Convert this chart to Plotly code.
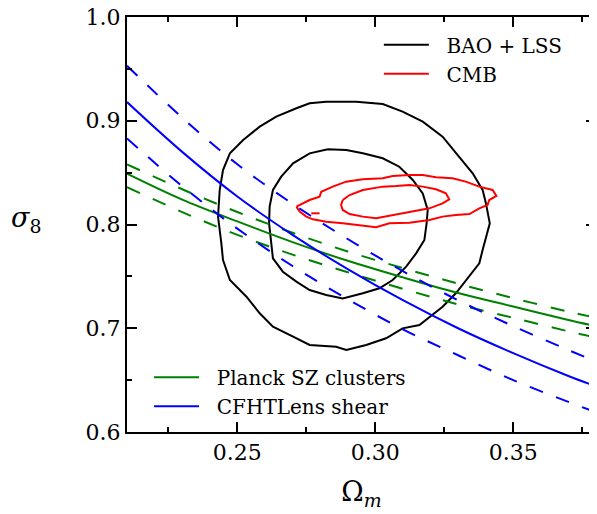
import plotly.graph_objects as go

# ---------------- data ----------------
line_x = [0.21, 0.23, 0.25, 0.27, 0.29, 0.31, 0.33, 0.35, 0.37, 0.38]

sz_mid = [0.849, 0.824, 0.803, 0.783, 0.765, 0.749, 0.734, 0.721, 0.708, 0.702]
sz_hi = [0.858, 0.834, 0.812, 0.792, 0.774, 0.758, 0.743, 0.729, 0.716, 0.710]
sz_lo = [0.836, 0.812, 0.790, 0.771, 0.754, 0.738, 0.723, 0.710, 0.697, 0.691]

shear_mid = [0.918, 0.870, 0.827, 0.790, 0.757, 0.727, 0.700, 0.676, 0.654, 0.644]
shear_hi = [0.953, 0.903, 0.858, 0.820, 0.786, 0.755, 0.727, 0.702, 0.679, 0.668]
shear_lo = [0.883, 0.837, 0.796, 0.760, 0.728, 0.699, 0.674, 0.650, 0.629, 0.619]

bao_outer_x = [0.2822, 0.2931, 0.3027, 0.3099, 0.3172, 0.3244, 0.3298, 0.3353, 0.3389, 0.3401,
               0.3415, 0.3401, 0.3389, 0.3377, 0.3340, 0.3292, 0.3244, 0.3196, 0.3160, 0.3099,
               0.3039, 0.2967, 0.2895, 0.2858, 0.2762, 0.2702, 0.2629, 0.2581, 0.2533, 0.2473,
               0.2448, 0.2442, 0.2436, 0.2430, 0.2436, 0.2448, 0.2473, 0.2521, 0.2581, 0.2641,
               0.2714, 0.2762, 0.2822]
bao_outer_y = [0.9184, 0.9184, 0.9161, 0.9088, 0.8991, 0.8847, 0.8670, 0.8493, 0.8333, 0.8204,
               0.8011, 0.7883, 0.7754, 0.7626, 0.7497, 0.7337, 0.7208, 0.7112, 0.7031, 0.6999,
               0.6903, 0.6839, 0.6790, 0.6822, 0.6839, 0.6919, 0.7015, 0.7144, 0.7304, 0.7465,
               0.7658, 0.7818, 0.7947, 0.8076, 0.8332, 0.8525, 0.8686, 0.8815, 0.8943, 0.9039,
               0.9120, 0.9168, 0.9184]

bao_inner_x = [0.2828, 0.2895, 0.2955, 0.3027, 0.3087, 0.3136, 0.3172, 0.3190, 0.3186, 0.3178,
               0.3148, 0.3112, 0.3063, 0.3015, 0.2955, 0.2882, 0.2822, 0.2762, 0.2714, 0.2665,
               0.2629, 0.2623, 0.2615, 0.2617, 0.2629, 0.2659, 0.2702, 0.2762, 0.2828]
bao_inner_y = [0.8725, 0.8718, 0.8686, 0.8638, 0.8557, 0.8429, 0.8300, 0.8140, 0.8011, 0.7851,
               0.7722, 0.7594, 0.7465, 0.7385, 0.7337, 0.7288, 0.7321, 0.7368, 0.7449, 0.7545,
               0.7674, 0.7818, 0.8011, 0.8172, 0.8333, 0.8461, 0.8590, 0.8686, 0.8725]

cmb_outer_x = [0.2714, 0.2762, 0.2798, 0.2804, 0.2846, 0.2894, 0.2955, 0.3027, 0.3063, 0.3124,
               0.3172, 0.3220, 0.3280, 0.3328, 0.3377, 0.3425, 0.3439, 0.3413, 0.3407, 0.3377,
               0.3341, 0.3292, 0.3244, 0.3196, 0.3124, 0.3051, 0.3003, 0.2943, 0.2882, 0.2822,
               0.2774, 0.2750, 0.2726, 0.2714]
cmb_outer_y = [0.8172, 0.8236, 0.8268, 0.8316, 0.8365, 0.8413, 0.8435, 0.8445, 0.8467, 0.8477,
               0.8477, 0.8455, 0.8445, 0.8413, 0.8365, 0.8333, 0.8275, 0.8236, 0.8188, 0.8156,
               0.8101, 0.8092, 0.8076, 0.8043, 0.8018, 0.8011, 0.7973, 0.7995, 0.8011, 0.8027,
               0.8050, 0.8076, 0.8124, 0.8172]

cmb_island_x = [0.2768, 0.2798]
cmb_island_y = [0.8108, 0.8108]

cmb_inner_x = [0.2882, 0.2907, 0.2955, 0.3027, 0.3075, 0.3124, 0.3172, 0.3220, 0.3256, 0.3268,
               0.3244, 0.3196, 0.3148, 0.3099, 0.3039, 0.3003, 0.2955, 0.2907, 0.2882, 0.2876,
               0.2882]
cmb_inner_y = [0.8236, 0.8284, 0.8333, 0.8365, 0.8371, 0.8381, 0.8365, 0.8339, 0.8301, 0.8243,
               0.8204, 0.8156, 0.8133, 0.8108, 0.8082, 0.8060, 0.8076, 0.8101, 0.8140, 0.8188,
               0.8236]

x_ticks = [0.25, 0.30, 0.35]
x_tick_labels = ["0.25", "0.30", "0.35"]
y_ticks = [0.6, 0.7, 0.8, 0.9, 1.0]
y_tick_labels = ["0.6", "0.7", "0.8", "0.9", "1.0"]

# ---------------- figure ----------------
FONT = "DejaVu Serif"
GREEN = "#008000"
BLUE = "#0000ff"
RED = "#ff0000"
LW = 2
DASH = "14px,14px"
PAD = "\u00a0\u00a0"  # gap between legend line and label

fig = go.Figure()

# contours
fig.add_trace(go.Scatter(x=bao_outer_x, y=bao_outer_y, mode="lines", name=PAD + "BAO + LSS",
                         line=dict(color="black", width=LW), legend="legend", legendrank=1))
fig.add_trace(go.Scatter(x=bao_inner_x, y=bao_inner_y, mode="lines", showlegend=False,
                         line=dict(color="black", width=LW)))
fig.add_trace(go.Scatter(x=cmb_outer_x, y=cmb_outer_y, mode="lines", name=PAD + "CMB",
                         line=dict(color=RED, width=LW), legend="legend", legendrank=2))
fig.add_trace(go.Scatter(x=cmb_inner_x, y=cmb_inner_y, mode="lines", showlegend=False,
                         line=dict(color=RED, width=LW)))
fig.add_trace(go.Scatter(x=cmb_island_x, y=cmb_island_y, mode="lines", showlegend=False,
                         line=dict(color=RED, width=LW)))

# Planck SZ
fig.add_trace(go.Scatter(x=line_x, y=sz_mid, mode="lines", name=PAD + "Planck SZ clusters",
                         line=dict(color=GREEN, width=LW, shape="spline"),
                         legend="legend2", legendrank=1))
fig.add_trace(go.Scatter(x=line_x, y=sz_hi, mode="lines", showlegend=False,
                         line=dict(color=GREEN, width=LW, dash=DASH, shape="spline")))
fig.add_trace(go.Scatter(x=line_x, y=sz_lo, mode="lines", showlegend=False,
                         line=dict(color=GREEN, width=LW, dash=DASH, shape="spline")))

# CFHTLens
fig.add_trace(go.Scatter(x=line_x, y=shear_mid, mode="lines", name=PAD + "CFHTLens shear",
                         line=dict(color=BLUE, width=LW, shape="spline"),
                         legend="legend2", legendrank=2))
fig.add_trace(go.Scatter(x=line_x, y=shear_hi, mode="lines", showlegend=False,
                         line=dict(color=BLUE, width=LW, dash=DASH, shape="spline")))
fig.add_trace(go.Scatter(x=line_x, y=shear_lo, mode="lines", showlegend=False,
                         line=dict(color=BLUE, width=LW, dash=DASH, shape="spline")))

axis_common = dict(
    showline=True, linecolor="black", linewidth=2, mirror="allticks",
    ticks="inside", ticklen=10, tickwidth=1.5, tickcolor="black",
    showgrid=False, zeroline=False, automargin=False, ticklabeloverflow="allow",
    tickfont=dict(family=FONT, size=22, color="black"),
)

# the page body adds an 8px offset, so the figure is 8px smaller than the window
fig.update_layout(
    template="none",
    width=589, height=506,
    margin=dict(l=119, r=1, t=9, b=82, pad=0),
    paper_bgcolor="white", plot_bgcolor="white",
    font=dict(family=FONT, color="black"),
    showlegend=True,
    xaxis=dict(range=[0.21, 0.38], tickvals=x_ticks, ticktext=x_tick_labels,
               minor=dict(ticks="inside", ticklen=5, tickwidth=1.5, tickcolor="black",
                          tick0=0.2, dtick=0.025),
               title=dict(text="Ω<sub><i>m</i></sub>", font=dict(family=FONT, size=27),
                          standoff=18),
               **axis_common),
    yaxis=dict(range=[0.6, 1.0], tickvals=y_ticks, ticktext=y_tick_labels,
               minor=dict(ticks="inside", ticklen=5, tickwidth=1.5, tickcolor="black",
                          tick0=0.6, dtick=0.05),
               **axis_common),
    annotations=[dict(text="<i>σ</i><sub>8</sub>", xref="paper", yref="paper",
                      x=-0.215, y=0.511, xanchor="center", yanchor="middle",
                      showarrow=False, font=dict(family=FONT, size=27, color="black"))],
    legend=dict(x=0.537, y=0.980, xanchor="left", yanchor="top",
                bgcolor="rgba(0,0,0,0)", borderwidth=0, itemwidth=45,
                font=dict(family=FONT, size=20, color="black"), tracegroupgap=0),
    legend2=dict(x=0.047, y=0.179, xanchor="left", yanchor="top",
                 bgcolor="rgba(0,0,0,0)", borderwidth=0, itemwidth=45,
                 font=dict(family=FONT, size=20, color="black"), tracegroupgap=0),
)

fig.write_html("out.html")
